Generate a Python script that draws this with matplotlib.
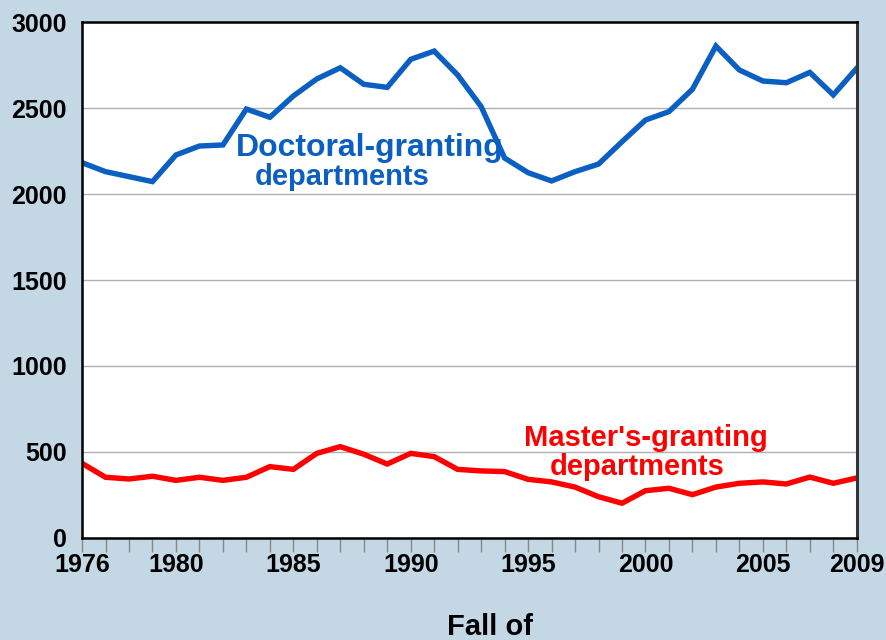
import matplotlib.pyplot as plt
from matplotlib.ticker import MultipleLocator

plt.rcParams['font.family'] = ['Liberation Sans', 'DejaVu Sans']

# Data
years = list(range(1976, 2010))
doctoral = [2182, 2130, 2101, 2072, 2227, 2279, 2285, 2494, 2446, 2570,
            2669, 2734, 2638, 2620, 2783, 2831, 2692, 2508, 2209, 2124,
            2076, 2130, 2174, 2304, 2430, 2479, 2609, 2860, 2721, 2657,
            2647, 2707, 2576, 2731]
masters = [434, 353, 343, 359, 335, 353, 335, 353, 415, 399,
           492, 531, 487, 430, 492, 473, 399, 390, 386, 341,
           326, 296, 240, 202, 275, 289, 252, 296, 318, 326,
           314, 354, 318, 349]
xtick_years = [1976, 1980, 1985, 1990, 1995, 2000, 2005, 2009]

bg = '#c3d8e4'
blue = '#0b5fc3'
red = '#ff0000'

fig = plt.figure(figsize=(8.86, 6.4), dpi=100, facecolor=bg)
ax = fig.add_axes([0.0926, 0.1594, 0.8744, 0.8062])
ax.set_facecolor('white')

ax.plot(years, doctoral, color=blue, lw=3.9, solid_joinstyle='miter')
ax.plot(years, masters, color=red, lw=3.9, solid_joinstyle='miter')

ax.set_xlim(1976, 2009)
ax.set_ylim(0, 3000)
ax.set_xticks(xtick_years)
ax.xaxis.set_minor_locator(MultipleLocator(1))
ax.set_yticks(range(0, 3001, 500))
ax.yaxis.grid(True, color='#b0b0b0', lw=1)
ax.set_axisbelow(True)

ax.tick_params(axis='x', which='both', direction='out', length=10,
               width=1, color='#888888', labelsize=18, pad=1)
ax.tick_params(axis='y', length=0, labelsize=18, pad=11)
for lab in ax.get_xticklabels() + ax.get_yticklabels():
    lab.set_fontweight('bold')

for side in ['left', 'bottom', 'top']:
    ax.spines[side].set_linewidth(1.8)
    ax.spines[side].set_color('black')
ax.spines['right'].set_linewidth(2.2)
ax.spines['right'].set_color('#333333')

# series labels (each line placed on its own, as in the original)
ax.text(1988.26, 2267, "Doctoral-granting", color=blue, fontsize=23,
        fontweight='bold', ha='center', va='center')
ax.text(1987.1, 2099, "departments", color=blue, fontsize=21,
        fontweight='bold', ha='center', va='center')
ax.text(2000.0, 581, "Master's-granting", color=red, fontsize=21,
        fontweight='bold', ha='center', va='center')
ax.text(1999.66, 413, "departments", color=red, fontsize=21,
        fontweight='bold', ha='center', va='center')

fig.text(0.553, 0.02, "Fall of", fontsize=21, fontweight='bold',
         ha='center', va='center')

fig.savefig('out.png', dpi=100, facecolor=bg)
